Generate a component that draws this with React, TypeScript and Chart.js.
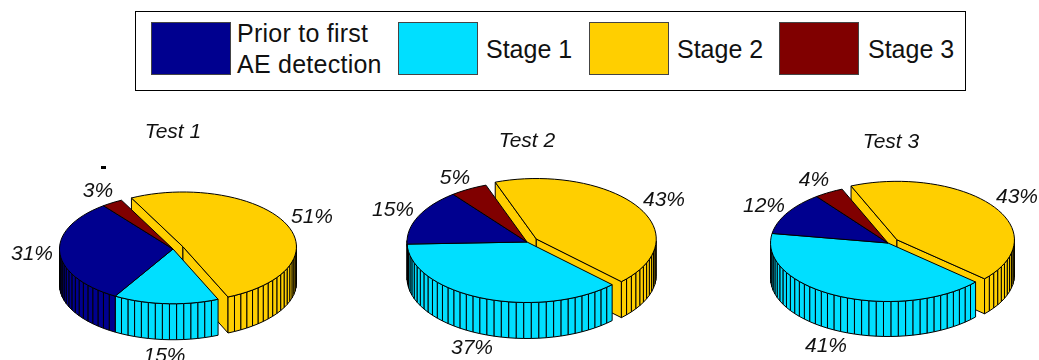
import React, { useEffect, useRef } from "react";
import { Chart, registerables } from "chart.js";

Chart.register(...registerables);

// Slices run clockwise in this order on every pie.
const sliceNames = ["Stage 2", "Stage 1", "Prior to first AE detection", "Stage 3"];
const sliceColors = ["#FFCF00", "#00DFFF", "#00008F", "#800000"];
const sliceOffsets = [44, 0, 0, 0];

const test1Values = [51, 15, 31, 3];
const test2Values = [43, 37, 15, 5];
const test3Values = [43, 41, 12, 4];

const legendNames = [["Prior to first", "AE detection"], ["Stage 1"], ["Stage 2"], ["Stage 3"]];
const legendColors = ["#00008F", "#00DFFF", "#FFCF00", "#800000"];
const legendSwatchX = [151, 398, 589, 779];
const legendTextX = [237, 486, 677, 868];

type PieSpec = {
  title: string;
  values: number[];
  rotation: number;
  left: number;
  top: number;
  width: number;
  height: number;
  radius: number;
  squash: number;
  depth: number;
  titleAt: [number, number];
  labelsAt: [number, number][];
};

const pies: PieSpec[] = [
  {
    title: "Test 1",
    values: test1Values,
    rotation: -27,
    left: 0,
    top: 120,
    width: 346,
    height: 258,
    radius: 113.5,
    squash: 55 / 114,
    depth: 36,
    titleAt: [173, 138],
    labelsAt: [[312, 223], [164.5, 362], [32, 260], [98, 197]],
  },
  {
    title: "Test 2",
    values: test2Values,
    rotation: -20,
    left: 357,
    top: 116,
    width: 340,
    height: 252,
    radius: 120,
    squash: 60.5 / 120,
    depth: 36,
    titleAt: [527, 147],
    labelsAt: [[664, 206], [472, 354], [393, 216], [455, 184]],
  },
  {
    title: "Test 3",
    values: test3Values,
    rotation: -23,
    left: 737,
    top: 116,
    width: 302,
    height: 254,
    radius: 117.5,
    squash: 58.5 / 117.5,
    depth: 35,
    titleAt: [891, 148],
    labelsAt: [[1017, 203], [826, 352], [764, 212], [814, 186]],
  },
];

const FACET = (2 * Math.PI) / 100;
const LABEL_FONT = "italic 21px 'Liberation Sans', Arial, sans-serif";

function polygon(ctx: CanvasRenderingContext2D, pts: number[][], fill: string) {
  ctx.beginPath();
  pts.forEach(([x, y], i) => (i ? ctx.lineTo(x, y) : ctx.moveTo(x, y)));
  ctx.closePath();
  ctx.fillStyle = fill;
  ctx.fill();
  ctx.stroke();
}

// Draws the doughnut controller's arcs as an extruded, tilted pie, back to front.
function extrudedPie(spec: PieSpec) {
  return {
    id: "extrudedPie",
    beforeDatasetsDraw(chart: Chart) {
      const ctx = chart.ctx;
      const arcs = chart.getDatasetMeta(0).data as any[];
      const k = spec.squash;
      const h = spec.depth;

      const drawSlice = (arc: any) => {
        const { x, y, startAngle: a, endAngle: b, outerRadius: r } = arc;
        const color = arc.options.backgroundColor;
        const mid = (a + b) / 2;
        const push = (arc.options.offset || 0) / 4;
        const cx = x + Math.cos(mid) * push;
        const cy = y + Math.sin(mid) * push * k;
        const rim = (t: number, dz = 0) => [cx + r * Math.cos(t), cy + k * r * Math.sin(t) + dz];

        // Cut faces are only exposed on a slice pulled out of the pie.
        if (push > 0) {
          for (const [t, normal] of [[a, a - Math.PI / 2], [b, b + Math.PI / 2]]) {
            if (Math.sin(normal) > 0) {
              polygon(ctx, [[cx, cy], rim(t), rim(t, h), [cx, cy + h]], color);
            }
          }
        }

        const n = Math.max(1, Math.ceil((b - a) / FACET));
        const angles = Array.from({ length: n + 1 }, (_, i) => a + ((b - a) * i) / n);

        for (let i = 0; i < n; i++) {
          const t0 = angles[i];
          const t1 = angles[i + 1];
          if (Math.sin((t0 + t1) / 2) > 0) {
            polygon(ctx, [rim(t0), rim(t1), rim(t1, h), rim(t0, h)], color);
          }
        }

        polygon(ctx, [[cx, cy], ...angles.map((t) => rim(t))], color);
      };

      ctx.save();
      ctx.strokeStyle = "#000";
      ctx.lineWidth = 1;
      ctx.lineJoin = "round";
      // The pulled-out slice sits behind the rest of the pie.
      arcs.filter((arc) => arc.options.offset > 0).forEach(drawSlice);
      arcs.filter((arc) => !(arc.options.offset > 0)).forEach(drawSlice);
      ctx.restore();
      return false;
    },
    afterDraw(chart: Chart) {
      const ctx = chart.ctx;
      ctx.save();
      ctx.font = LABEL_FONT;
      ctx.fillStyle = "#111";
      ctx.textAlign = "center";
      ctx.textBaseline = "alphabetic";
      ctx.fillText(spec.title, spec.titleAt[0] - spec.left, spec.titleAt[1] - spec.top);
      spec.values.forEach((v, i) => {
        const [lx, ly] = spec.labelsAt[i];
        ctx.fillText(`${v}%`, lx - spec.left, ly - spec.top);
      });
      ctx.restore();
    },
  };
}

function Pie({ spec }: { spec: PieSpec }) {
  const ref = useRef<HTMLCanvasElement>(null);
  useEffect(() => {
    const chart = new Chart(ref.current!, {
      type: "pie",
      data: {
        labels: sliceNames,
        datasets: [
          {
            data: spec.values,
            backgroundColor: sliceColors,
            offset: sliceOffsets,
            borderWidth: 0,
          },
        ],
      },
      options: {
        responsive: false,
        animation: false,
        events: [],
        rotation: spec.rotation,
        radius: spec.radius,
        layout: { padding: 0 },
        plugins: { legend: { display: false }, tooltip: { enabled: false }, title: { display: false } },
      },
      plugins: [extrudedPie(spec)],
    } as any);
    return () => chart.destroy();
  }, [spec]);
  return (
    <canvas
      ref={ref}
      width={spec.width}
      height={spec.height}
      style={{ position: "absolute", left: spec.left, top: spec.top, width: spec.width, height: spec.height }}
    />
  );
}

const legendLine: React.CSSProperties = {
  position: "absolute",
  font: "25px/30px 'Liberation Sans', Arial, sans-serif",
  color: "#111",
  whiteSpace: "nowrap",
};

function Legend() {
  return (
    <>
      <div
        style={{
          position: "absolute",
          left: 135,
          top: 11,
          width: 829,
          height: 78,
          border: "1px solid #000",
          boxSizing: "content-box",
        }}
      />
      {legendNames.map((lines, i) => (
        <React.Fragment key={i}>
          <div
            style={{
              position: "absolute",
              left: legendSwatchX[i],
              top: 22,
              width: 78,
              height: 51,
              background: legendColors[i],
              border: "1px solid #444",
            }}
          />
          {lines.map((line, j) => (
            <span
              key={line}
              style={{
                ...legendLine,
                left: legendTextX[i],
                top: lines.length > 1 ? 18 + j * 31 : 34,
                letterSpacing: lines.length > 1 ? 0.25 : 0,
              }}
            >
              {line}
            </span>
          ))}
        </React.Fragment>
      ))}
    </>
  );
}

export default function App() {
  return (
    <div
      style={{
        position: "fixed",
        left: 0,
        top: 0,
        width: 1039,
        height: 360,
        overflow: "hidden",
        background: "#fff",
      }}
    >
      <Legend />
      <div style={{ position: "absolute", left: 101, top: 166, width: 5, height: 3, background: "#000" }} />
      {pies.map((spec) => (
        <Pie key={spec.title} spec={spec} />
      ))}
    </div>
  );
}
